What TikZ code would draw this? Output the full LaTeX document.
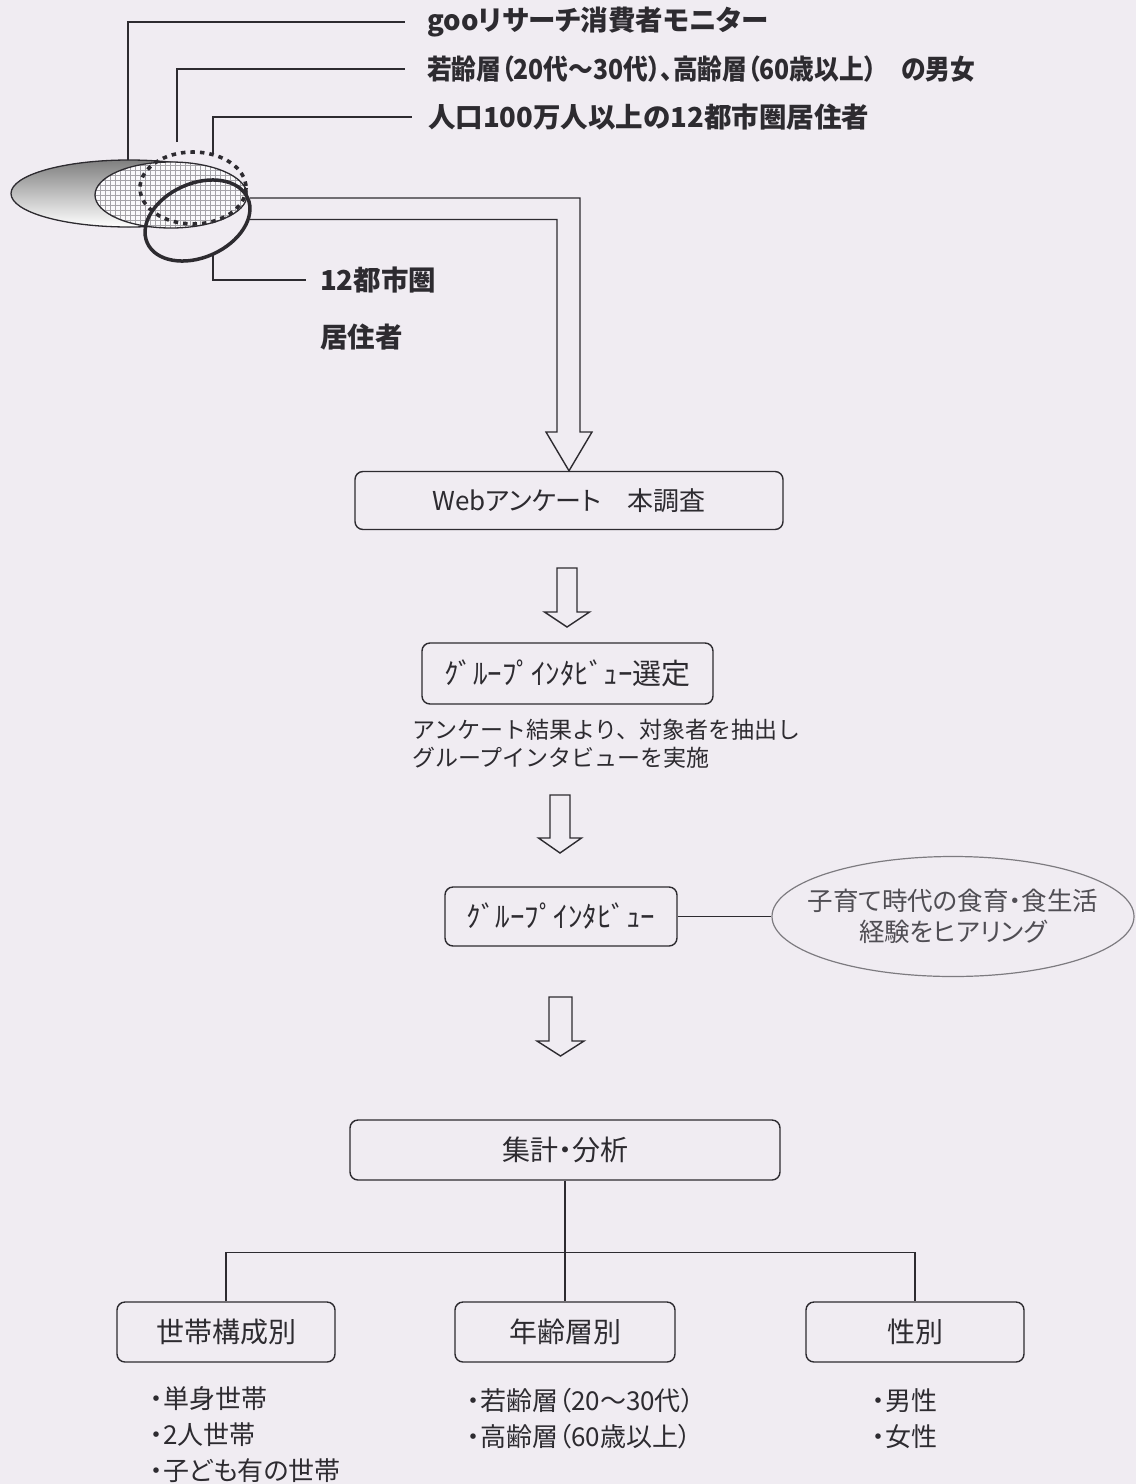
\documentclass[tikz,border=0pt]{standalone}
\usepackage{fontspec}
\setmainfont{Noto Sans CJK JP}[RawFeature=+palt]
\newfontfamily\jpfull{Noto Sans CJK JP}
\newfontfamily\jpcond{Noto Sans CJK JP}[FakeStretch=0.9, RawFeature=+palt]
\usetikzlibrary{shapes.geometric}
\definecolor{bg}{RGB}{240,236,242}
\definecolor{ink}{RGB}{45,43,48}
\definecolor{shade}{RGB}{155,153,158}
\definecolor{gridc}{RGB}{165,163,168}
\definecolor{cellbg}{RGB}{250,249,251}
\definecolor{softink}{RGB}{125,123,128}
\definecolor{softtext}{RGB}{80,78,84}
\newcommand\dnarrow[6]{%
  \draw[barrow] ({#1-#5},#2) -- ({#1+#5},#2) -- ({#1+#5},#3) -- ({#1+#6},#3)
    -- (#1,#4) -- ({#1-#6},#3) -- ({#1-#5},#3) -- cycle;}
\begin{document}
\begin{tikzpicture}[x=1pt,y=-1pt,
  box/.style={draw=ink, line width=1.4pt, rounded corners=8pt, text=ink,
    font=\fontsize{26}{30}\selectfont, inner sep=0pt},
  toplbl/.style={anchor=west, text=ink, font=\bfseries\fontsize{27.5}{30}\selectfont,
    inner ysep=0pt, inner xsep=22pt},
  lead/.style={draw=ink, line width=1.3pt},
  barrow/.style={draw=ink, line width=1.4pt, line join=miter},
  note/.style={anchor=west, align=left, text=ink, font=\jpfull\fontsize{23}{28}\selectfont, inner sep=0pt},
  list/.style={anchor=west, align=left, text=ink, font=\fontsize{26}{36}\selectfont, inner sep=0pt},
  hear/.style={draw=softink, line width=1.2pt, shape=ellipse, minimum width=362, minimum height=120, inner sep=0pt},
  heartext/.style={align=center, text=softtext, font=\fontsize{25.5}{31}\selectfont, inner sep=0pt}
]
\useasboundingbox (0,0) rectangle (1136,1484);
\fill[bg] (0,0) rectangle (1136,1484);

% ---------- Venn diagram ----------
\fill[shade] (129,193.5) ellipse [x radius=118, y radius=33.5];
\draw[ink, line width=1.3pt] (129,193.5) ellipse [x radius=118, y radius=33.5];
\begin{scope}
  \clip (171,195) ellipse [x radius=76, y radius=33];
  \fill[cellbg] (90,155) rectangle (255,235);
  \foreach \gx in {95,100,...,250} \draw[gridc, line width=0.8pt] (\gx,155) -- (\gx,235);
  \foreach \gy in {160,165,...,230} \draw[gridc, line width=0.8pt] (90,\gy) -- (255,\gy);
\end{scope}
\draw[ink, line width=1.3pt] (171,195) ellipse [x radius=76, y radius=33];
\draw[ink, line width=3.6pt, dash pattern=on 4.5pt off 5pt] (193,188) ellipse [x radius=53, y radius=36];
\draw[ink, line width=3.5pt, rotate around={24:(197.5,220.5)}] (197.5,220.5) ellipse [x radius=55, y radius=37];

% ---------- labels ----------
\node[toplbl] (t1) at (405,22) {gooリサーチ消費者モニター};
\node[toplbl, font=\jpcond\bfseries\fontsize{27.5}{30}\selectfont] (t2) at (405,69) {若齢層（20代～30代）、高齢層（60歳以上）　の男女};
\node[toplbl, inner xsep=16pt] (t3) at (412,117) {人口100万人以上の12都市圏居住者};
\node[toplbl, inner xsep=14pt] (t4) at (306,280) {12都市圏};
\node[anchor=west, text=ink, font=\bfseries\fontsize{27.5}{30}\selectfont, inner sep=0pt] (t5) at (320,337) {居住者};

\coordinate (g1) at (128,160);
\coordinate (g2) at (177,142);
\coordinate (g3) at (213,153);
\coordinate (g4) at (213,254);
\draw[lead] (g1) |- (t1.west);
\draw[lead] (g2) |- (t2.west);
\draw[lead] (g3) |- (t3.west);
\draw[lead] (g4) |- (t4.west);

% ---------- flow ----------
\node[box, minimum width=428, minimum height=58] (web) at (569,500.5) {Webアンケート　本調査};
\coordinate (b1) at (250,198);
\coordinate (b2) at (250,219.5);
\draw[barrow] (b1) -- (580,198) -- (580,432) -- (592,432) -- (web.north)
  -- (546,432) -- (557,432) -- (557,219.5) -- (b2);

\dnarrow{567}{568}{612}{627}{10}{22.5}
\node[box, minimum width=291, minimum height=61, font=\fontsize{29}{30}\selectfont] (sel) at (567.5,673.5) {ｸﾞﾙｰﾌﾟｲﾝﾀﾋﾞｭｰ選定};
\node[note] (note) at (412,744) {アンケート結果より、対象者を抽出し\\グループインタビューを実施};

\dnarrow{560}{795}{838}{853}{10}{21.5}
\node[box, minimum width=232, minimum height=59, font=\fontsize{29}{30}\selectfont] (gi) at (561,916.5) {ｸﾞﾙｰﾌﾟｲﾝﾀﾋﾞｭｰ};
\node[hear] (hear) at (953,916.5) {};
\node[heartext] (heartxt) at (hear.center) {子育て時代の食育・食生活\\経験をヒアリング};
\draw[lead] (gi.east) -- (gi.east -| hear.west);

\dnarrow{560.5}{997}{1041}{1056}{11.5}{23.5}
\node[box, minimum width=430, minimum height=60, font=\fontsize{28}{30}\selectfont] (sum) at (565,1150) {集計・分析};
\node[box, minimum width=218, minimum height=60, font=\fontsize{28}{30}\selectfont] (hh) at (226,1332) {世帯構成別};
\node[box, minimum width=220, minimum height=60, font=\fontsize{28}{30}\selectfont] (age) at (565,1332) {年齢層別};
\node[box, minimum width=218, minimum height=60, font=\fontsize{28}{30}\selectfont] (sx) at (915,1332) {性別};
\draw[lead] (sum.south) -- (age.north);
\draw[lead] (hh.north) -- ++(0,-49) -| (sx.north);

\node[list] (l1) at (150,1435) {・単身世帯\\・2人世帯\\・子ども有の世帯};
\node[list] (l2) at (467,1418.5) {・若齢層（20～30代）\\・高齢層（60歳以上）};
\node[list] (l3) at (872,1418.5) {・男性\\・女性};
\end{tikzpicture}
\end{document}
